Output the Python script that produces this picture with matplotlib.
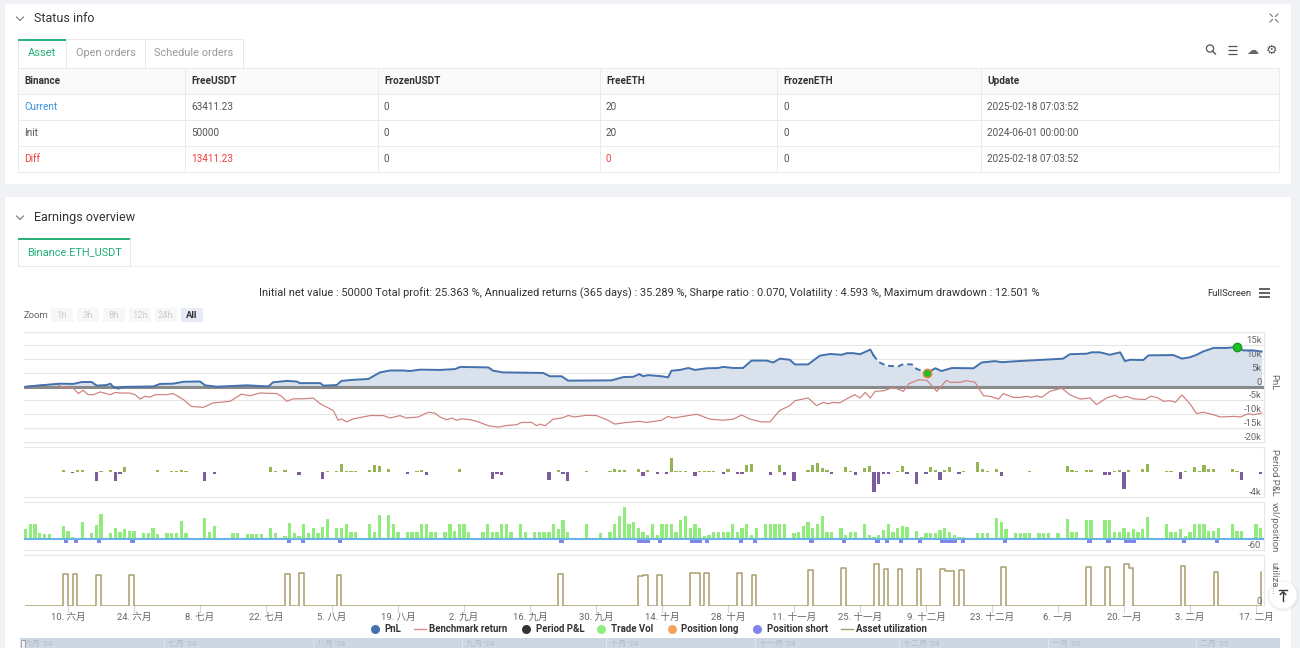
import numpy as np
import pandas as pd
import matplotlib
matplotlib.use("Agg")
import matplotlib.pyplot as plt
from matplotlib.patches import Rectangle, Circle

plt.rcParams["font.family"] = ["Roboto", "Noto Sans CJK SC", "DejaVu Sans"]

W, H = 1300, 648
START = pd.Timestamp("2024-06-01")
END = pd.Timestamp("2025-02-18")

# ---------------- data ----------------
table_cols = ["Binance", "FreeUSDT", "FrozenUSDT", "FreeETH", "FrozenETH", "Update"]
table_rows = [
    ["Current", "63411.23", "0", "20", "0", "2025-02-18 07:03:52"],
    ["Init", "50000", "0", "20", "0", "2024-06-01 00:00:00"],
    ["Diff", "13411.23", "0", "0", "0", "2025-02-18 07:03:52"],
]
stats_text = ("Initial net value : 50000 Total profit: 25.363 %, Annualized returns (365 days) : 35.289 %, "
              "Sharpe ratio : 0.070, Volatility : 4.593 %, Maximum drawdown : 12.501 %")
zoom_buttons = ["1h", "3h", "8h", "12h", "24h", "All"]
month_cn = ["一月", "二月", "三月", "四月", "五月", "六月", "七月", "八月", "九月", "十月", "十一月", "十二月"]

# PnL (k USDT), keyed by days since 2024-06-01
pnl = {0: 0, 7.3: 1.1, 10.1: 1.0, 11.9: 1.7, 14: 1.7, 15.1: 0.4, 17.2: 0.6, 18: 1.1, 18.6: -0.1,
       19.7: -0.7, 20.4: -0.1, 27.1: 0.1, 28.5: 1.0, 31.3: 1.1, 33.5: 1.8, 37: 1.9, 38.1: 0.5,
       40.5: 0.0, 46.9: 0.5, 51.5: 0.1, 52.5: 1.6, 55.4: 2.1, 57.5: 1.9, 58.2: 1.3, 62.5: 1.3,
       63.2: 0.4, 66: 0.6, 67: 2.1, 69.5: 2.5, 72.7: 2.8, 75.2: 5.2, 77.3: 5.9, 80.1: 5.9, 81.5: 5.7,
       83.7: 6.2, 87.9: 6.1, 91.1: 6.4, 92.2: 7.2, 98.2: 7.0, 99.2: 5.8, 101.3: 5.2, 109.8: 5.0,
       111.2: 3.8, 113.7: 3.8, 115.1: 2.2, 124.3: 2.3, 126.8: 3.5, 128.9: 3.6, 130.2: 4.6, 131: 3.8,
       132.1: 4.2, 134.9: 3.8, 136.3: 3.4, 137: 5.8, 138.8: 6.1, 140.6: 6.8, 142: 6.1, 144.5: 6.7,
       146.9: 6.8, 148: 7.2, 150.1: 6.8, 152.2: 6.8, 154: 9.5, 157.2: 9.5, 158.6: 8.8, 160: 10.2,
       162.1: 9.8, 163.2: 8.1, 166: 8.1, 168.5: 11.3, 170.7: 11.9, 173.1: 11.6, 174.2: 12.2,
       175.6: 12.2, 177: 11.8, 179.2: 13.5, 179.8: 11.6, 180.9: 9.0, 182.7: 7.6, 185.1: 7.4,
       186.2: 8.2, 188: 8.1, 189: 6.5, 191.2: 5.0, 193: 6.7, 194.3: 5.7, 196.5: 6.8, 201.1: 6.7,
       202.8: 8.8, 205.6: 9.3, 207.1: 8.9, 209.5: 9.2, 220.1: 10.2, 221.5: 11.8, 225.1: 12.0,
       226.1: 12.5, 227.9: 12.5, 230: 11.6, 232.2: 12.5, 233.2: 9.3, 234.3: 9.8, 237.1: 9.7,
       238.2: 11.4, 243.5: 11.5, 245.3: 10.2, 247: 10.7, 248.4: 11.6, 249.8: 12.8, 252: 14.1,
       254.8: 14.1, 256.9: 14.4, 258.3: 13.2, 260.4: 13.2, 262.2: 12.8}
pnl_dashed = (179.8, 191.2)          # interval drawn dashed
flag_days = [191.2, 256.9]

benchmark = {0: 0, 3.1: 0.6, 6.6: 1.0, 7.7: -0.1, 10.1: -0.5, 11.2: -2.5, 12.2: -1.3, 13.3: -2.9,
             14.4: -2.9, 15.8: -1.9, 17.9: -2.9, 19: -2.1, 20: -2.3, 22.1: -2.3, 23.2: -2.9,
             24.3: -4.5, 25.3: -3.5, 26.4: -3.8, 27.5: -2.9, 29.9: -2.9, 31.3: -2.5, 33.5: -4.7,
             35.2: -7.2, 37.7: -7.5, 39.8: -5.9, 43.4: -5.3, 45.8: -2.7, 47.6: -3.3, 49.7: -2.3,
             53.3: -2.5, 54.3: -3.5, 55.4: -5.3, 56.8: -4.4, 58.9: -4.4, 61: -4.1, 62.5: -6.2,
             65.3: -8.7, 66.3: -12.2, 67: -11.7, 68.1: -12.8, 69.5: -11.7, 73.1: -10.5, 75.9: -10.5,
             77.3: -11.4, 79.4: -10.5, 80.8: -11.4, 83.3: -11.0, 85.4: -9.3, 86.8: -9.6, 87.9: -11.0,
             89.3: -12.0, 90.4: -11.4, 91.4: -12.2, 92.5: -11.7, 94.3: -12.0, 95.7: -12.6, 98.2: -14.2,
             100.3: -14.7, 102.1: -14.1, 104.2: -13.8, 105.2: -13.0, 107.4: -13.0, 108.4: -14.2,
             109.1: -13.6, 110.2: -14.2, 111.9: -11.8, 113.7: -11.4, 115.1: -10.5, 116.5: -11.0,
             119: -10.4, 121.1: -10.5, 123.3: -12.0, 125: -13.6, 127.5: -13.0, 130.3: -12.6,
             131.7: -13.0, 134.9: -12.2, 136.3: -10.8, 137.4: -11.4, 141.6: -10.2, 142.4: -10.0,
             145.2: -11.8, 148: -12.2, 150.1: -11.8, 151.9: -10.3, 153.7: -11.8, 156.1: -12.8,
             157.9: -12.8, 160: -8.6, 162.1: -6.9, 163.2: -5.1, 166: -4.1, 167.8: -6.9, 169.2: -5.7,
             170.3: -6.2, 171.3: -5.7, 172.7: -5.9, 174.2: -4.4, 175.9: -2.9, 177: -4.1, 178.1: -2.1,
             179.2: -4.1, 180.2: -1.7, 182: -1.5, 184.1: -0.2, 186.2: -1.7, 187.3: 1.0, 189.4: 2.5,
             191.2: 2.3, 193.3: -1.7, 195.3: 2.3, 196.1: 1.6, 198.3: 1.6, 199.6: 2.2, 201.4: 1.6,
             203.2: -3.3, 204.6: -3.5, 206.4: -4.5, 207.4: -2.5, 209.5: -3.9, 211: -3.9, 212.4: -3.5,
             213.4: -3.9, 214.5: -3.3, 215.5: -3.9, 217.3: -1.7, 219.8: -0.5, 221.5: -2.9,
             223.7: -4.5, 225.8: -4.1, 227.2: -6.5, 229.3: -4.1, 231.1: -3.1, 232.2: -4.1,
             233.6: -3.5, 235: -4.4, 237.5: -4.7, 238.6: -3.5, 240: -3.9, 241.4: -5.3, 242.8: -5.1,
             243.9: -5.7, 245.3: -3.0, 247: -6.2, 248.4: -9.8, 249.8: -9.3, 252: -10.2, 253.4: -11.0,
             256.3: -10.8, 257.7: -11.0, 259.4: -9.8, 260.4: -10.2, 262.2: -9.6}

# daily period P&L (k USDT)
period_pl = {1: 0.1, 2: 0.1, 3: 0.1, 4: 0.1, 5: 0.1, 6: 0.1, 7: 0.1, 8: 0.3, 9: 0.1, 10: -0.15,
             11: 0.35, 12: 0.35, 15: -1.5, 16: 0.25, 18: 0.35, 19: -1.4, 20: -0.2, 21: 0.8, 23: 0.1,
             25: 0.1, 26: 0.1, 27: 0.1, 28: 0.3, 30: 0.1, 31: 0.15, 32: 0.2, 33: 0.3, 34: 0.25,
             38: -1.5, 40: -0.3, 44: 0.1, 45: 0.1, 47: 0.1, 48: 0.1, 49: 0.1, 50: 0.1, 52: 0.9,
             53: 0.25, 55: 0.45, 56: 0.1, 57: 0.1, 58: -0.4, 60: 0.1, 61: 0.1, 62: 0.1, 63: -1.1,
             64: 0.2, 66: 0.25, 67: 1.4, 68: 0.25, 69: 0.15, 70: 0.15, 73: 0.35, 74: 1.2, 75: 1.1,
             77: 0.5, 78: 0.1, 79: 0.1, 81: -0.3, 82: 0.1, 83: 0.15, 84: 0.3, 85: -0.5, 86: 0.1,
             87: 0.1, 89: 0.1, 90: 0.1, 91: 0.1, 92: 0.5, 93: 0.1, 97: 0.1, 99: -1.1, 100: -0.2,
             101: -0.4, 103: 0.1, 105: 0.1, 108: 0.1, 109: 0.1, 111: -1.2, 113: 0.3, 114: -0.3,
             115: -1.5, 119: 0.2, 124: 0.15, 125: 0.5, 126: 0.4, 127: 0.4, 128: 0.1, 129: 0.1,
             130: 0.6, 131: -0.6, 132: 0.4, 133: 0.1, 134: -0.2, 135: 0.1, 136: -0.3, 137: 2.4,
             138: 0.2, 139: 0.25, 140: 0.2, 141: 0.1, 142: -0.6, 143: 0.2, 144: 0.2, 145: 0.2,
             146: 0.2, 147: 0.1, 148: -0.3, 149: 0.5, 150: 0.1, 151: -0.2, 152: -0.2, 153: 1.2,
             154: 1.3, 158: -0.5, 160: 1.2, 161: -0.5, 163: -1.4, 166: 0.3, 167: 1.2, 168: 1.6,
             169: 0.7, 170: 0.3, 171: -0.2, 174: 0.8, 175: 0.2, 176: -0.5, 178: 0.7, 179: 1.0,
             180: -3.3, 181: -1.9, 182: -0.3, 183: -0.3, 184: 0.1, 185: 0.2, 186: 1.0, 187: -0.3,
             189: -1.9, 191: -0.2, 192: 0.8, 193: 0.4, 194: -1.2, 195: 0.4, 196: 0.9, 198: -0.2,
             199: 0.2, 202: 1.7, 203: 0.6, 204: 0.2, 206: 0.6, 207: -0.6, 208: 0.1, 210: 0.1,
             211: 0.1, 213: 0.15, 215: 0.1, 217: 0.1, 219: 0.1, 221: 1.1, 222: 0.4, 223: 0.2,
             225: 0.3, 226: 0.3, 229: -0.4, 230: -0.4, 231: 0.2, 232: 0.4, 233: -2.8, 234: 0.4,
             236: 0.1, 237: 0.6, 238: 1.3, 242: 0.2, 243: 0.2, 244: 0.1, 245: -1.1, 246: 0.2,
             248: 0.8, 249: 0.2, 250: 1.2, 251: 0.5, 252: 0.5, 253: 0.1, 256: 0.5, 257: 0.2,
             258: -1.3, 262: -0.3}

# daily trade volume
trade_vol = {0: 53, 1: 82, 2: 82, 3: 31, 4: 25, 5: 25, 8: 71, 9: 44, 10: 13, 12: 91, 14: 31, 15: 76,
             16: 136, 18: 31, 19: 60, 20: 40, 21: 56, 22: 44, 23: 44, 25: 35, 26: 35, 27: 60, 28: 27,
             30: 31, 31: 31, 32: 31, 33: 100, 34: 31, 38: 115, 39: 38, 40: 71, 44: 31, 45: 31,
             47: 25, 48: 25, 49: 25, 50: 25, 52: 60, 53: 31, 55: 16, 56: 87, 57: 31, 58: 16, 59: 82,
             60: 35, 61: 62, 62: 35, 63: 67, 64: 109, 66: 60, 67: 60, 68: 82, 69: 40, 70: 40,
             73: 84, 74: 40, 75: 131, 77: 129, 78: 82, 79: 40, 81: 40, 82: 40, 83: 40, 84: 82,
             85: 82, 86: 40, 87: 40, 89: 40, 90: 82, 91: 44, 92: 82, 93: 82, 94: 38, 97: 38,
             98: 82, 99: 38, 100: 38, 101: 82, 102: 82, 103: 38, 105: 82, 106: 38, 108: 38,
             109: 38, 110: 38, 111: 38, 112: 82, 113: 53, 114: 104, 115: 38, 119: 82, 122: 35,
             124: 38, 125: 82, 126: 127, 127: 173, 128: 82, 129: 93, 130: 60, 131: 38, 132: 22,
             133: 82, 134: 22, 135: 82, 136: 82, 137: 82, 138: 38, 139: 104, 140: 127, 141: 60,
             142: 82, 143: 60, 144: 16, 145: 22, 146: 38, 147: 38, 148: 38, 149: 38, 150: 82,
             151: 38, 152: 60, 153: 82, 154: 22, 155: 60, 157: 82, 158: 82, 159: 82, 160: 82,
             161: 82, 163: 35, 164: 38, 165: 71, 166: 95, 167: 60, 168: 82, 169: 125, 170: 38,
             171: 38, 173: 60, 174: 22, 175: 38, 176: 38, 178: 82, 179: 22, 180: 13, 181: 22,
             182: 49, 183: 82, 184: 38, 185: 60, 186: 71, 187: 67, 189: 45, 190: 9, 191: 31,
             192: 31, 193: 31, 194: 49, 195: 60, 196: 38, 197: 22, 198: 13, 199: 13, 202: 31,
             203: 35, 204: 35, 206: 115, 207: 95, 208: 55, 210: 35, 211: 35, 212: 35, 213: 35,
             215: 35, 216: 35, 217: 35, 219: 35, 221: 107, 222: 38, 223: 38, 225: 104, 226: 104,
             229: 104, 230: 104, 231: 38, 232: 38, 233: 60, 234: 38, 235: 53, 236: 38, 237: 56,
             238: 118, 242: 82, 243: 38, 244: 38, 245: 56, 246: 16, 247: 38, 248: 82, 249: 82,
             250: 82, 251: 42, 252: 42, 253: 60, 256: 82, 257: 42, 258: 42, 261: 82, 262: 60}

short_days = [8.6, 10.7, 15.6, 22.7, 55.8, 58.8, 66.7, 113.7, 130.2, 131.1, 132.0, 134.6, 141.3,
              142.2, 143.1, 144.6, 151.7, 154.7, 166.7, 173.6, 180.7, 182.8, 185.7, 189.8, 194.4,
              195.3, 196.2, 197.1, 198.8, 207.8, 225.7, 229.7, 233.5, 234.4, 235.2, 245.7, 252.7]
short_size = -20

# asset utilization (%), days with an open position
utilization = {8: 62, 10: 63, 15: 61, 22: 61, 55: 62, 58: 64, 66: 60, 113: 62, 130: 59, 131: 60,
               134: 60, 141: 64, 142: 65, 144: 64, 151: 64, 154: 61, 166: 70, 173: 75, 180: 82,
               182: 72, 185: 72, 189: 72, 194: 72, 195: 68, 196: 68, 198: 70, 207: 76, 225: 77,
               229: 77, 233: 82, 234: 74, 245: 78, 252: 66, 262: 67}

# ---------------- layout helpers ----------------
DAY0_X, PX_DAY = 25.6, 4.714          # pixel position of 2024-06-01 and px per day
PLOT_X0, PLOT_X1 = 24, 1264
XMIN = (PLOT_X0 - DAY0_X) / PX_DAY
XMAX = (PLOT_X1 - DAY0_X) / PX_DAY


def pt(px):
    return px * 0.72


fig = plt.figure(figsize=(W / 100, H / 100), dpi=100, facecolor="#f0f2f5")
bg = fig.add_axes([0, 0, 1, 1])
bg.set_xlim(0, W)
bg.set_ylim(H, 0)
bg.axis("off")


def box(ax, x0, y0, x1, y1, **kw):
    ax.add_patch(Rectangle((x0, y0), x1 - x0, y1 - y0, **kw))


def hline(ax, x0, x1, y, c="#ebebeb", lw=0.7):
    ax.plot([x0, x1], [y, y], color=c, lw=lw, solid_capstyle="butt")


def chevron(ax, x, y):
    ax.plot([x - 3.5, x, x + 3.5], [y - 2, y + 1.5, y - 2], color="#777", lw=0.8)


GREEN = "#25b07a"
GRID = "#e6e6e6"

# panels
box(bg, 5, 4, 1291, 184, fc="white", ec="none")
box(bg, 5, 197, 1291, 700, fc="white", ec="none")

# ---- Status info ----
chevron(bg, 20, 19)
bg.text(34, 19, "Status info", fontsize=pt(12.5), color="#333", va="center")
for (a, b), (c, d) in [((1270, 14), (1272.5, 16.5)), ((1278, 14), (1275.5, 16.5)),
                       ((1270, 22), (1272.5, 19.5)), ((1278, 22), (1275.5, 19.5))]:
    bg.plot([a, c], [b, d], color="#777", lw=0.8)

tabs = [("Asset", 18, 66), ("Open orders", 66, 145), ("Schedule orders", 145, 243)]
for i, (name, x0, x1) in enumerate(tabs):
    box(bg, x0, 39, x1, 67.5, fc="white", ec="#e8e8e8", lw=0.7)
    bg.text((x0 + x1) / 2, 53.5, name, fontsize=pt(11), color=GREEN if i == 0 else "#999",
            ha="center", va="center")
hline(bg, 18, 66, 39.5, c=GREEN, lw=1.4)

# toolbar icons
bg.add_patch(Circle((1210, 48.5), 3.6, fill=False, ec="#555", lw=0.9))
bg.plot([1212.6, 1215.5], [51.1, 54], color="#555", lw=1)
for yy in (46, 50, 54):
    hline(bg, 1228, 1237, yy, c="#555", lw=0.9)
bg.text(1252, 50.5, "☁", family=["DejaVu Sans"], fontsize=pt(12), color="#666", ha="center", va="center")
bg.text(1271.5, 50, "⚙", family=["DejaVu Sans"], fontsize=pt(13), color="#555", ha="center", va="center")

# table
col_x = [18, 185, 378, 600, 777, 981, 1279]
row_y = [68, 94, 120, 146, 172]
box(bg, col_x[0], row_y[0], col_x[-1], row_y[1], fc="#fafafa", ec="none")
for yy in row_y:
    hline(bg, col_x[0], col_x[-1], yy)
for xx in col_x:
    bg.plot([xx, xx], [row_y[0], row_y[-1]], color="#ebebeb", lw=0.7)
for j, name in enumerate(table_cols):
    bg.text(col_x[j] + 6, 81, name, fontsize=pt(10), fontweight="bold", color="#333", va="center")
red_cells = {(2, 0), (2, 1), (2, 3)}
for i, row in enumerate(table_rows):
    for j, val in enumerate(row):
        c = "#555"
        if (i, j) in red_cells:
            c = "#f23d3d"
        elif (i, j) == (0, 0):
            c = "#3d8fe0"
        bg.text(col_x[j] + 6, (row_y[i + 1] + row_y[i + 2]) / 2, val, fontsize=pt(10), color=c, va="center")

# ---- Earnings overview ----
chevron(bg, 20, 218)
bg.text(34, 218, "Earnings overview", fontsize=pt(12.5), color="#333", va="center")
box(bg, 18, 238, 130, 266, fc="white", ec="#e8e8e8", lw=0.7)
hline(bg, 18, 130, 238.5, c=GREEN, lw=1.4)
hline(bg, 130, 1279, 266, c="#eeeeee")
bg.text(74, 252.5, "Binance.ETH_USDT", fontsize=pt(11), color=GREEN, ha="center", va="center")

bg.text(649, 293, stats_text, fontsize=pt(11), color="#333", ha="center", va="center")
bg.text(1229, 293.5, "FullScreen", fontsize=pt(9.5), color="#333", ha="center", va="center")
for yy in (289, 293, 297):
    hline(bg, 1259, 1270, yy, c="#555", lw=1.3)

bg.text(24, 315, "Zoom", fontsize=pt(9.5), color="#666", va="center")
for k, lab in enumerate(zoom_buttons):
    x0 = 51 + 26 * k
    active = lab == "All"
    box(bg, x0, 308, x0 + 22, 322, fc="#e6ebf5" if active else "#f7f7f7", ec="none")
    bg.text(x0 + 11, 315, lab, fontsize=pt(9.5), color="#333" if active else "#cccccc",
            fontweight="bold" if active else "normal", ha="center", va="center")


# ---- chart panels ----
def chart_ax(y0, y1):
    ax = fig.add_axes([PLOT_X0 / W, 1 - y1 / H, (PLOT_X1 - PLOT_X0) / W, (y1 - y0) / H])
    ax.set_facecolor("none")
    ax.set_xlim(XMIN, XMAX)
    ax.set_xticks([])
    ax.set_yticks([])
    ax.spines["left"].set_visible(False)
    for s in ("top", "bottom", "right"):
        ax.spines[s].set_color(GRID)
        ax.spines[s].set_linewidth(0.8)
    return ax


def ylabels(ax, values, fmt):
    tr = ax.get_yaxis_transform()
    for v in values:
        ax.text(1 - 2.5 / (PLOT_X1 - PLOT_X0), v, fmt(v), transform=tr, ha="right", va="bottom",
                fontsize=pt(9.5), color="#666")


def kfmt(v):
    return "0" if v == 0 else f"{v:g}k"


# PnL panel
ax1 = chart_ax(331.7, 441.7)
ax1.set_ylim(-20, 20)
for v in range(-15, 20, 5):
    if v != 0:
        ax1.axhline(v, color=GRID, lw=0.8, zorder=1)
pd_days = np.array(list(pnl.keys()), dtype=float)
pd_vals = np.array(list(pnl.values()), dtype=float)
ax1.fill_between(pd_days, pd_vals, 0, color="#d9e1ec", lw=0, zorder=2)
ax1.axhline(0, color="#8a8a8a", lw=2.2, zorder=3)
bd = np.array(list(benchmark.keys()), dtype=float)
bv = np.array(list(benchmark.values()), dtype=float)
ax1.plot(bd, bv, color="#cf7f7c", lw=0.85, zorder=4)
m1 = pd_days <= pnl_dashed[0]
m2 = (pd_days >= pnl_dashed[0]) & (pd_days <= pnl_dashed[1])
m3 = pd_days >= pnl_dashed[1]
ax1.plot(pd_days[m1], pd_vals[m1], color="#4271ad", lw=1.4, zorder=5)
ax1.plot(pd_days[m2], pd_vals[m2], color="#4271ad", lw=1.4, ls=(0, (3, 2)), zorder=5)
ax1.plot(pd_days[m3], pd_vals[m3], color="#4271ad", lw=1.4, zorder=5)
for d, ec in zip(flag_days, ["#e8843c", "#1b9a1b"]):
    ax1.plot([d], [pnl[d]], "o", ms=6, mfc="#1fbf2a", mec=ec, mew=1, zorder=6)
ylabels(ax1, [-20, -15, -10, -5, 0, 5, 10, 15], kfmt)

# Period P&L panel
ax2 = chart_ax(446.7, 496.7)
ax2.set_ylim(-4, 4.2)
pl_d = np.array(list(period_pl.keys()), dtype=float)
pl_v = np.array(list(period_pl.values()), dtype=float)
ax2.bar(pl_d, pl_v, width=0.7, color=np.where(pl_v >= 0, "#95b454", "#7d5c9e"), lw=0)
ylabels(ax2, [-4], kfmt)

# Trade vol / position panel
ax3 = chart_ax(501.7, 550)
ax3.set_ylim(-60, 203.5)
ax3.bar(list(trade_vol.keys()), list(trade_vol.values()), width=0.7, color="#90ed7d", lw=0, zorder=2)
ax3.bar(short_days, [short_size] * len(short_days), width=0.9, color="#8085e9", lw=0, zorder=2)
ax3.axhline(0, color="#68b2e6", lw=1.5, zorder=3)
ylabels(ax3, [-60], lambda v: f"{v:g}")

# Asset utilization panel
ax4 = chart_ax(555, 605.7)
ax4.set_ylim(0, 100)
ax4.spines["bottom"].set_visible(False)
all_days = np.arange(0, int(XMAX) + 1)
util_vals = np.array([utilization.get(d, 0) for d in all_days], dtype=float)
ax4.step(all_days, util_vals, where="post", color="#a99d6c", lw=1.1, zorder=3)
ax4.axhline(0, color="#b0b0b0", lw=0.9, ls=(0, (1, 2)), zorder=4)
ylabels(ax4, [0], lambda v: "0")

# x axis ticks and labels (every two weeks)
tick_dates = pd.date_range("2024-06-10", END, freq="14D")
xt = ax4.get_xaxis_transform()
for d in tick_dates:
    day = (d - START).days
    ax4.plot([day, day], [0, -6 / 50.7], color="#ccd6eb", lw=0.8, transform=xt, clip_on=False)
    ax4.text(day, -11.5 / 50.7, f"{d.day}. {month_cn[d.month - 1]}", transform=xt, ha="center",
             va="center", fontsize=pt(9.5), color="#666")

# ---- navigator ----
box(bg, 20, 638, 1280, 700, fc="#cdd7e4", ec="none")
nav_px = (1278 - 20) / 262
for m in pd.date_range("2024-06-01", END, freq="MS"):
    xm = 20 + (m - START).days * nav_px
    bg.plot([xm, xm], [638, 648], color="#dde4ee", lw=0.8)
    bg.text(xm + 4, 643, f"{month_cn[m.month - 1]} '{m.strftime('%y')}", fontsize=pt(8),
            color="#b3bcc8", va="center", ha="left")
box(bg, 20.5, 639.5, 25, 652, fc="#f2f2f2", ec="#999", lw=0.6)

# ---- foreground: legend, axis titles, scroll button ----
fg = fig.add_axes([0, 0, 1, 1], zorder=20)
fg.set_xlim(0, W)
fg.set_ylim(H, 0)
fg.axis("off")
fg.patch.set_alpha(0)

leg_y = 629
legend_items = [("dot", 374.9, "#4271ad", "PnL", 384.4),
                ("line", 414.3, "#e08a88", "Benchmark return", 428.8),
                ("dot", 526.0, "#333333", "Period P&L", 535.6),
                ("dot", 601.4, "#90ed7d", "Trade Vol", 611.0),
                ("dot", 671.5, "#f7a35c", "Position long", 681.4),
                ("dot", 757.2, "#8085e9", "Position short", 767.2),
                ("line", 841.0, "#a99e72", "Asset utilization", 855.9)]
for kind, xm, c, label, xt_ in legend_items:
    if kind == "dot":
        fg.plot([xm], [leg_y], "o", ms=pt(9), color=c, mec="none")
    else:
        fg.plot([xm, xm + 11.5], [leg_y, leg_y], color=c, lw=1)
    fg.text(xt_, leg_y, label, fontsize=pt(9.6), fontweight="bold", color="#333", va="center")

for label, yc in [("PnL", 382), ("Period P&L", 472), ("vol/position", 527), ("utiliza...", 578)]:
    fg.text(1274, yc, label, rotation=270, fontsize=pt(9.5), color="#666", ha="center", va="center")

fg.add_patch(Circle((1283, 596), 15.5, fc="#000000", alpha=0.05, ec="none"))
fg.add_patch(Circle((1283, 595), 14, fc="white", ec="#eeeeee", lw=0.5))
fg.plot([1279, 1287], [590, 590], color="#333", lw=1)
fg.plot([1283, 1283], [591.5, 601], color="#333", lw=1)
fg.plot([1280.3, 1283, 1285.7], [594.5, 591.8, 594.5], color="#333", lw=1)

fig.savefig("out.png", dpi=100, facecolor=fig.get_facecolor())
